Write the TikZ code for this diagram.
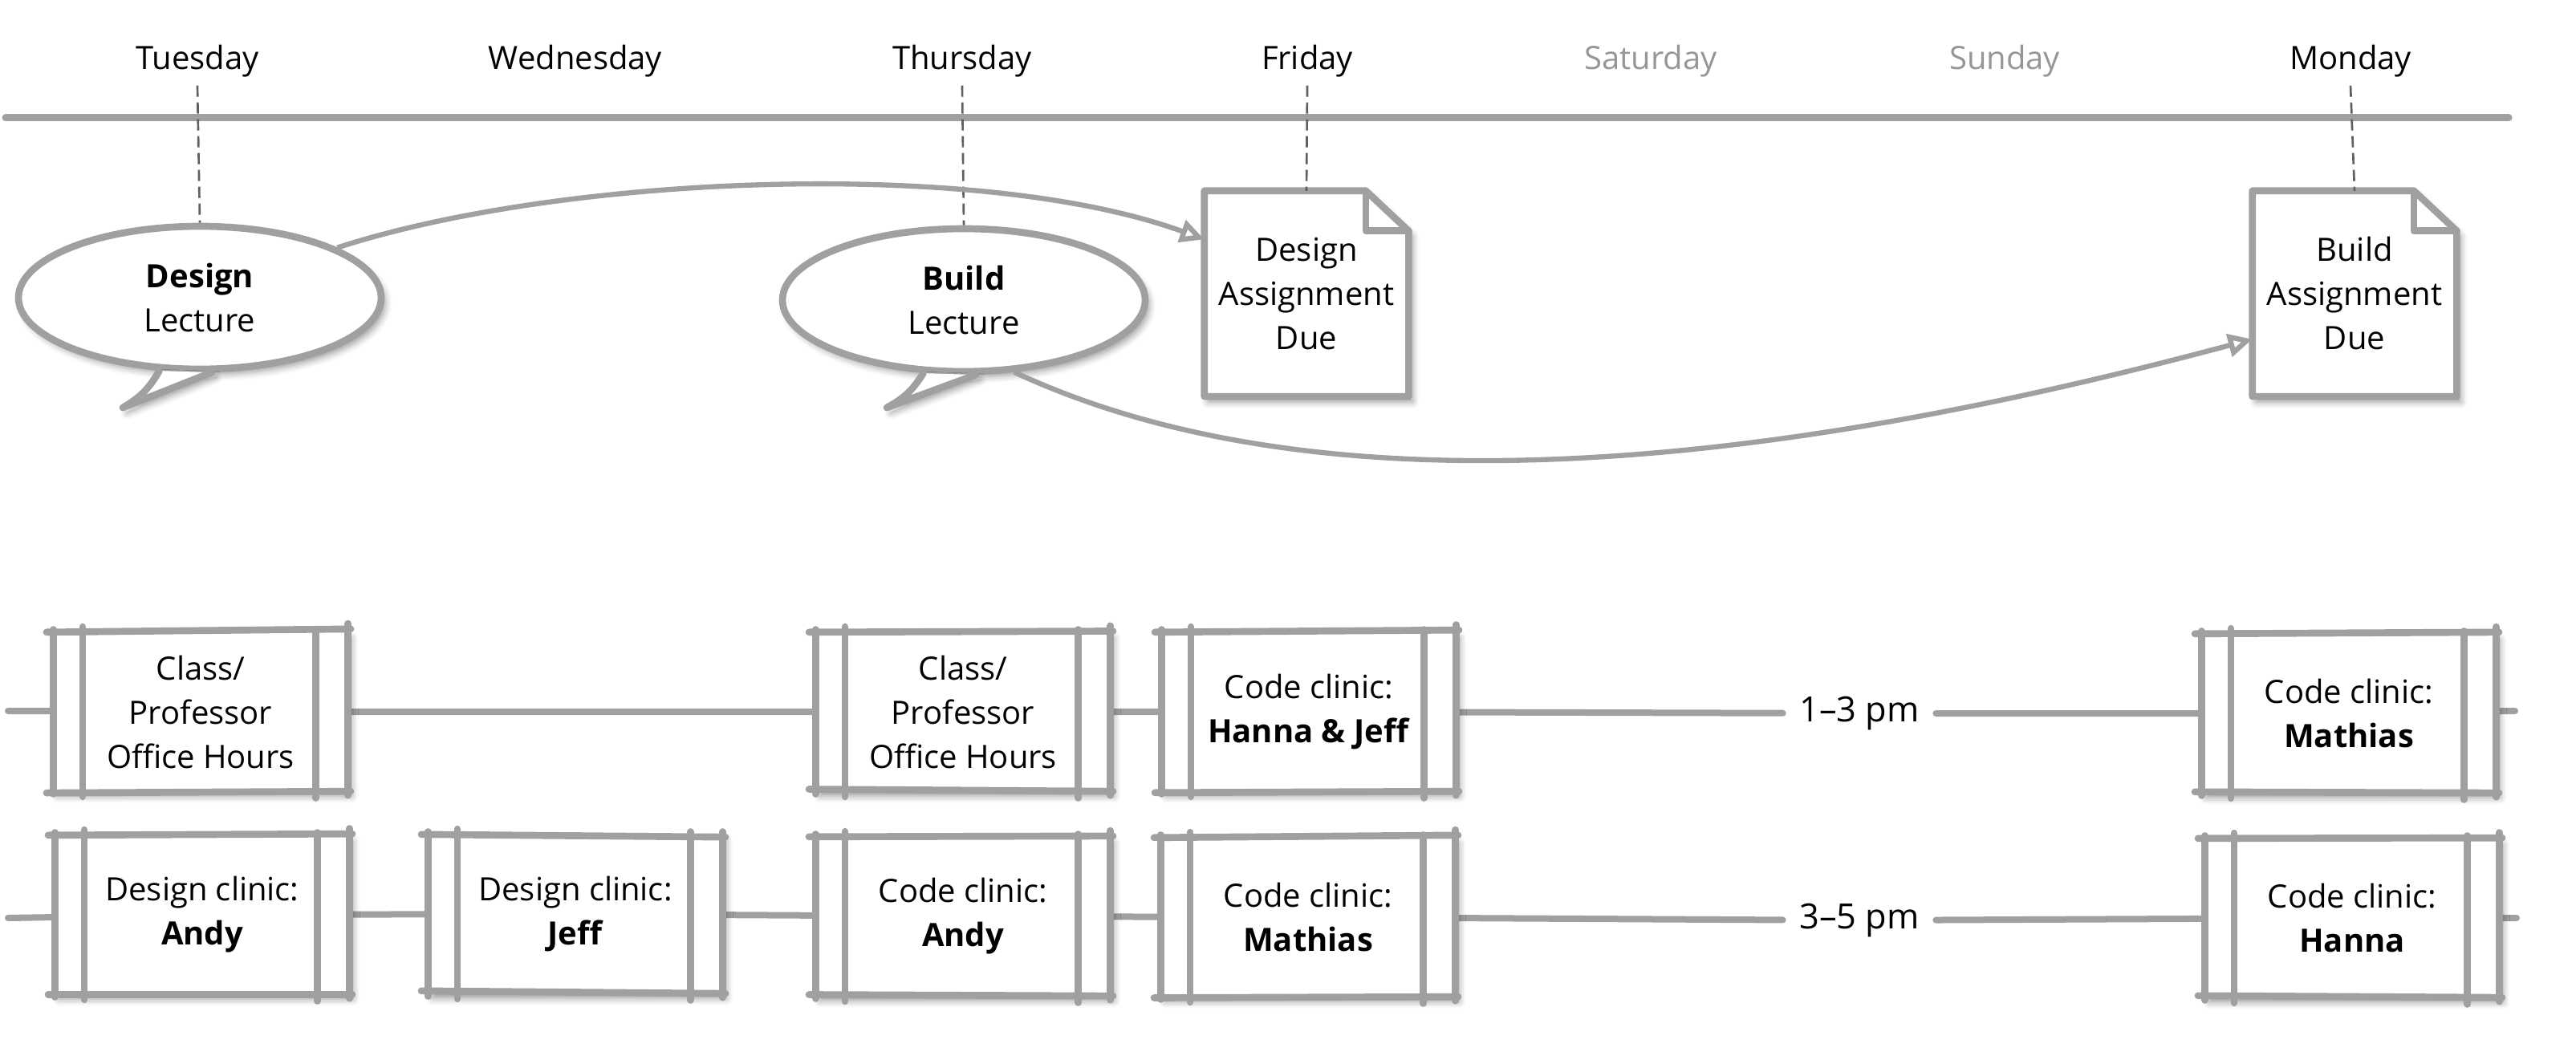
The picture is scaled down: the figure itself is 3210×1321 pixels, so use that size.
\documentclass[tikz,border=0pt]{standalone}
\usepackage{fontspec}
\setmainfont{Open Sans}
\usetikzlibrary{arrows.meta,shapes.geometric,backgrounds,shadows.blur}
\definecolor{ink}{RGB}{160,160,160}
\definecolor{guidecol}{RGB}{95,95,95}
\definecolor{offday}{RGB}{150,150,150}
\begin{document}
\begin{tikzpicture}[x=0.3pt,y=0.3pt,
  txt/.style={font=\fontsize{12}{16.5}\selectfont, align=center},
  softshadow/.style={blur shadow={shadow xshift=1.5pt, shadow yshift=-2pt, shadow blur radius=2.5pt, shadow opacity=40}},
  day/.style={txt, inner sep=3pt},
  bubble/.style={txt, ellipse, draw=ink, line width=2.6pt, fill=white,
    minimum width=135.6pt, minimum height=53.4pt, inner sep=0pt,
    softshadow, execute at begin node={\rule{0pt}{12.5pt}}},
  docframe/.style={minimum width=76pt, minimum height=76.5pt, inner sep=0pt},
  doctext/.style={txt, inner sep=0pt, execute at begin node={\rule{0pt}{11.5pt}}},
  slot/.style={txt, fill=white, minimum width=109.8pt, minimum height=59.1pt, inner sep=0pt,
    softshadow, execute at begin node={\rule{0pt}{11.5pt}}},
  stroke/.style={draw=ink, line width=2.6pt, line cap=round, line join=round},
  rail/.style={draw=ink, line width=2.4pt, line cap=round},
  guide/.style={draw=guidecol, line width=0.8pt, dash pattern=on 4.2pt off 2.1pt},
  flow/.style={draw=ink, line width=1.9pt, -{Triangle[open, length=9pt, width=8.5pt]}},
  hours/.style={font=\fontsize{13}{16.5}\selectfont, inner xsep=6pt, inner ysep=2pt},
]
\path[use as bounding box] (0,0) rectangle (3210,-1321);

% week axis
\coordinate (axisL) at (7,-147);
\coordinate (axisR) at (3126,-147);
\draw[rail, line width=2.7pt] (axisL) -- (axisR);

\node[day] (tue) at (246,-76) {Tuesday};
\node[day] (wed) at (717,-76) {Wednesday};
\node[day] (thu) at (1199,-76) {Thursday};
\node[day] (fri) at (1629,-76) {Friday};
\node[day, text=offday] (sat) at (2057,-76) {Saturday};
\node[day, text=offday] (sun) at (2498,-76) {Sunday};
\node[day] (mon) at (2929,-76) {Monday};

% lectures: speech bubbles with a tail
\node[bubble] (dl) at (249,-371) {\textbf{Design}\\Lecture};
\node[bubble] (bl) at (1201,-374) {\textbf{Build}\\Lecture};
\coordinate (dl-tip) at (153,-508);
\coordinate (bl-tip) at (1105,-508);
\foreach \n in {dl,bl}{
  \fill[white, softshadow] (\n.241) to[bend left=15] (\n-tip) -- (\n.279) -- cycle;
  \draw[stroke] (\n.241) to[bend left=15] (\n-tip) -- (\n.279);
}

% assignment sheets with a folded corner
\node[docframe] (da) at (1628,-366) {};
\node[docframe] (ba) at (2934,-366) {};
\foreach \n in {da,ba}{
  \draw[stroke, fill=white, softshadow] (\n.north west) -- ([xshift=-16pt]\n.north east)
    -- ([yshift=-15pt]\n.north east) -- (\n.south east) -- (\n.south west) -- cycle;
  \draw[stroke] ([xshift=-16pt]\n.north east) -- ([xshift=-16pt,yshift=-15pt]\n.north east)
    -- ([yshift=-15pt]\n.north east);
}
\node[doctext] (dat) at (da.center) {Design\\Assignment\\Due};
\node[doctext] (bat) at (ba.center) {Build\\Assignment\\Due};

% day guides
\draw[guide] (tue.south) -- (dl.north);
\draw[guide] (thu.south) -- (bl.north);
\draw[guide] (fri.south) -- (da.north);
\draw[guide] (mon.south) -- (ba.north);

% lecture to due date
\draw[flow] (dl.20) to[out=18, in=160, looseness=0.7] (da.152);
\draw[flow] (bl.-55) to[out=-25, in=195, looseness=0.8] (ba.204);

% 1-3 pm slots
\node[slot] (oh1) at (250,-887) {Class/\\Professor\\Office Hours};
\node[slot] (oh2) at (1200,-887) {Class/\\Professor\\Office Hours};
\node[slot] (cc1) at (1631,-887) {Code clinic:\\\textbf{Hanna \& Jeff}};
\node[slot] (cm1) at (2927,-889) {Code clinic:\\\textbf{Mathias}};
\node[hours] (t1) at (2317,-889) {1–3 pm};

% 3-5 pm slots
\node[slot] (da1) at (252,-1140) {Design clinic:\\\textbf{Andy}};
\node[slot] (dj) at (717,-1139) {Design clinic:\\\textbf{Jeff}};
\node[slot] (ca) at (1200,-1142) {Code clinic:\\\textbf{Andy}};
\node[slot] (cm2) at (1630,-1143) {Code clinic:\\\textbf{Mathias}};
\node[slot] (ch) at (2931,-1144) {Code clinic:\\\textbf{Hanna}};
\node[hours] (t2) at (2317,-1147) {3–5 pm};

% hand-drawn frames of the slots
\foreach \n/\p/\q in {oh1/1.2/-0.6, oh2/0.4/0.8, cc1/0.8/-0.5, cm1/0.6/0.4,
                      da1/0.5/0, dj/-1.0/1.0, ca/0.3/0.5, cm2/0.9/-0.4, ch/0.2/0.7}{
  \draw[stroke] ([xshift=-2.5pt]\n.north west) -- ([xshift=1pt,yshift=\p pt]\n.north east);
  \draw[stroke] ([xshift=-2.5pt,yshift=\q pt]\n.south west) -- ([xshift=1pt]\n.south east);
  \draw[stroke] ([yshift=1pt]\n.north west) -- ([yshift=-1pt]\n.south west);
  \draw[stroke] ([yshift=\p pt+2pt]\n.north east) -- ([yshift=-1.5pt]\n.south east);
  \draw[stroke] ([xshift=11pt,yshift=2pt]\n.north west) -- ([xshift=11pt,yshift=-2pt]\n.south west);
  \draw[stroke] ([xshift=-12pt,yshift=1pt]\n.north east) -- ([xshift=-12pt,yshift=-2.5pt]\n.south east);
}

% time rails
\coordinate (r1a) at (10,-886);
\coordinate (r1b) at (3134,-886);
\coordinate (r2a) at (10,-1144);
\coordinate (r2b) at (3136,-1144);
\begin{scope}[on background layer]
\draw[rail] (r1a) -- (oh1) -- (oh2) -- (cc1) -- (t1) -- (cm1) -- (r1b);
\draw[rail] (r2a) -- (da1) -- (dj) -- (ca) -- (cm2) -- (t2) -- (ch) -- (r2b);
\end{scope}
\end{tikzpicture}
\end{document}
